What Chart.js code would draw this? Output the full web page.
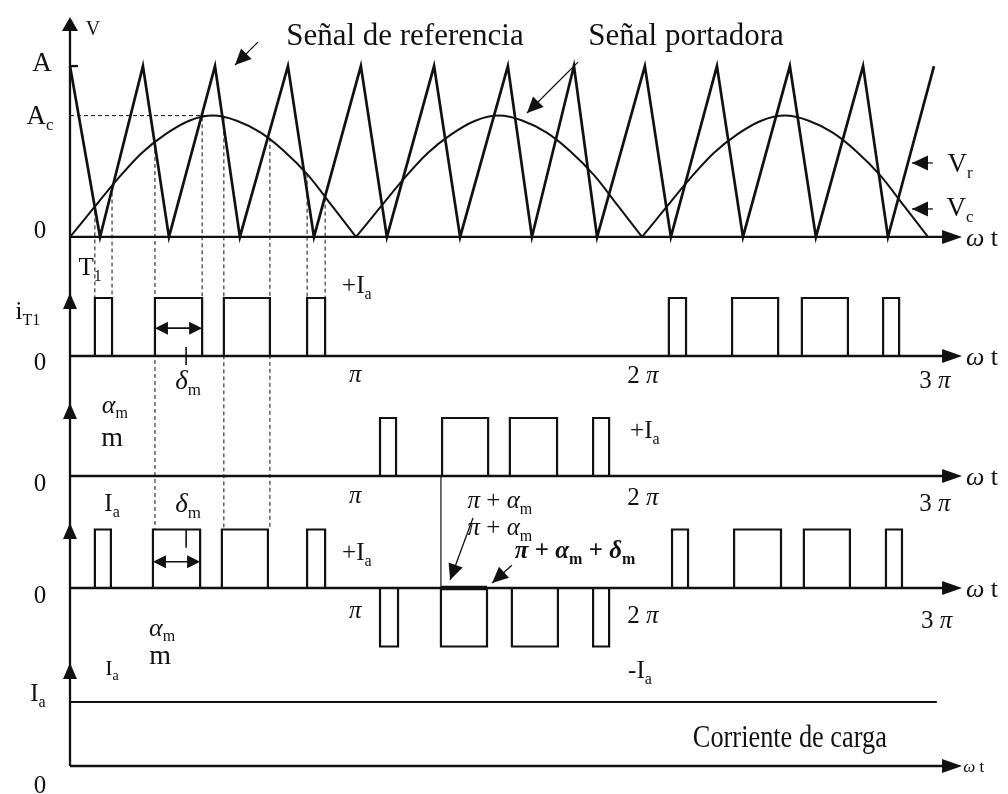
<!DOCTYPE html>
<html>
<head>
<meta charset="utf-8">
<script src="https://cdn.jsdelivr.net/npm/chart.js@4.4.1/dist/chart.umd.min.js"></script>
<style>
  html, body { margin: 0; padding: 0; background: #fff; }
  #wrap { position: relative; width: 1008px; height: 794px; }
</style>
</head>
<body>
<div id="wrap"><canvas id="pwm"></canvas></div>
<script>
// ωt is given in units of π everywhere
const carrierPeaks   = [0, 0.255, 0.507, 0.762, 1.017, 1.273, 1.531, 1.762, 2.010, 2.262, 2.517, 2.773, 3.021];
const carrierValleys = [0.105, 0.346, 0.594, 0.853, 1.108, 1.364, 1.615, 1.843, 2.101, 2.353, 2.608, 2.860];
const carrierA = 1;

// reference (rectified sine) read along one half-cycle
const refX = [0, 0.083, 0.167, 0.25, 0.333, 0.417, 0.5, 0.583, 0.667, 0.75, 0.833, 0.917, 1];
const refV = [0, 0.17, 0.34, 0.49, 0.60, 0.68, 0.71, 0.68, 0.61, 0.50, 0.36, 0.18, 0];
const refHumps = [0, 1, 2];
const refPeak = 0.71;

// gate pulses [on, off]
const iT1Pulses = [[0.087,0.147],[0.297,0.462],[0.538,0.699],[0.829,0.892],[2.094,2.154],[2.315,2.476],[2.559,2.720],[2.843,2.899]];
const iT2Pulses = [[1.084,1.140],[1.301,1.462],[1.538,1.703],[1.829,1.885]];
const outPosPulses = [[0.087,0.143],[0.290,0.455],[0.531,0.692],[0.829,0.892],[2.105,2.161],[2.322,2.486],[2.566,2.727],[2.853,2.909]];
const outNegPulses = [[1.084,1.147],[1.297,1.458],[1.545,1.706],[1.829,1.885]];
const loadCurrent = 1;
const loadEnd = 3.031;

// projection lines: [ωt, reference value at crossing, panel it ends on]
const projX   = [0.087, 0.147, 0.297, 0.462, 0.538, 0.699, 0.829, 0.892];
const projV   = [0.15, 0.26, 0.55, 0.70, 0.70, 0.58, 0.37, 0.23];
const projEnd = ['yT1', 'yT1', 'yO', 'yT1', 'yO', 'yO', 'yT1', 'yT1'];

const ink = '#111';
const serif = '"Liberation Serif", "DejaVu Serif", serif';

function pulseTrain(pulses){
  const pts = [{x: 0, y: 0}];
  pulses.forEach(([a, b, lv]) => {
    const l = lv === undefined ? 1 : lv;
    pts.push({x: a, y: 0}, {x: a, y: l}, {x: b, y: l}, {x: b, y: 0});
  });
  pts.push({x: 3, y: 0});
  return pts;
}

const carrierPts = carrierPeaks.map(x => ({x, y: carrierA}))
  .concat(carrierValleys.map(x => ({x, y: 0})))
  .sort((a, b) => a.x - b.x);

const outPulses = outPosPulses.map(p => [p[0], p[1], 1])
  .concat(outNegPulses.map(p => [p[0], p[1], -1]))
  .sort((a, b) => a[0] - b[0]);

const base = { pointRadius: 0, borderColor: ink, tension: 0, fill: false };
const datasets = [
  { ...base, data: carrierPts, yAxisID: 'yV', borderWidth: 2.7, clip: false },
  ...refHumps.map(k => ({ ...base, data: refX.map((x, i) => ({x: k + x, y: refV[i]})),
    yAxisID: 'yV', borderWidth: 2, cubicInterpolationMode: 'monotone' })),
  { ...base, data: pulseTrain(iT1Pulses), yAxisID: 'yT1', borderWidth: 2.2 },
  { ...base, data: pulseTrain(iT2Pulses), yAxisID: 'yT2', borderWidth: 2.2 },
  { ...base, data: pulseTrain(outPulses), yAxisID: 'yO', borderWidth: 2.2 },
  { ...base, data: [{x: 0, y: loadCurrent}, {x: loadEnd, y: loadCurrent}], yAxisID: 'yL', borderWidth: 2.2, clip: false }
];

// text: [text, ωt, axis, value, size, extra]
const labels = [
  ['V', 0.080, 'yV', 1.222, 20],
  ['A', -0.098, 'yV', 1.023, 27],
  ['A_c', -0.105, 'yV', 0.713, 27],
  ['0', -0.105, 'yV', 0.041, 25],
  ['Señal de referencia', 1.171, 'yV', 1.181, 31],
  ['Señal portadora', 2.154, 'yV', 1.181, 31],
  ['V_r', 3.112, 'yV', 0.433, 27],
  ['V_c', 3.112, 'yV', 0.175, 27],
  ['ω t', 3.189, 'yV', 0, 26],
  ['T_1', 0.070, 'yT1', 1.534, 25],
  ['i_T1', -0.147, 'yT1', 0.776, 25],
  ['+I_a', 1.003, 'yT1', 1.224, 25],
  ['0', -0.105, 'yT1', -0.103, 25],
  ['δ_m', 0.413, 'yT1', -0.414, 27],
  ['π', 0.997, 'yT1', -0.31, 25],
  ['2 π', 2.003, 'yT1', -0.33, 25],
  ['3 π', 3.024, 'yT1', -0.414, 25],
  ['ω t', 3.189, 'yT1', 0, 26],
  ['α_m', 0.157, 'yT1', -0.828, 26],
  ['m', 0.147, 'yT1', -1.397, 28],
  ['+I_a', 2.01, 'yT2', 0.793, 25],
  ['0', -0.105, 'yT2', -0.121, 25],
  ['I_a', 0.147, 'yT2', -0.466, 25],
  ['δ_m', 0.413, 'yT2', -0.466, 27],
  ['π', 0.997, 'yT2', -0.328, 25],
  ['π + α_m', 1.503, 'yT2', -0.414, 25],
  ['2 π', 2.003, 'yT2', -0.362, 25],
  ['3 π', 3.024, 'yT2', -0.466, 25],
  ['ω t', 3.189, 'yT2', 0, 26],
  ['+I_a', 1.003, 'yO', 0.615, 25],
  ['π + α_m', 1.503, 'yO', 1.043, 25],
  ['π + α_m + δ_m', 1.766, 'yO', 0.65, 25, 'bold'],
  ['0', -0.105, 'yO', -0.12, 25],
  ['π', 0.997, 'yO', -0.376, 25],
  ['2 π', 2.003, 'yO', -0.462, 25],
  ['3 π', 3.03, 'yO', -0.547, 25],
  ['ω t', 3.189, 'yO', 0, 26],
  ['α_m', 0.322, 'yO', -0.667, 26],
  ['m', 0.315, 'yO', -1.145, 28],
  ['I_a', 0.147, 'yO', -1.368, 22],
  ['-I_a', 1.993, 'yO', -1.402, 25],
  ['I_a', -0.112, 'yL', 1.14, 25],
  ['Corriente de carga', 2.517, 'yL', 0.453, 31, 194],
  ['0', -0.105, 'yL', -0.297, 25],
  ['ω t', 3.16, 'yL', 0, 17]
];

// arrows: [axis, from ωt, from value, to ωt, to value]
const pointers = [
  ['yV', 0.657, 1.140, 0.577, 1.006],
  ['yV', 1.776, 1.023, 1.598, 0.725],
  ['yV', 3.017, 0.433, 2.944, 0.433],
  ['yV', 3.017, 0.164, 2.944, 0.164],
  ['yO', 1.409, 1.197, 1.329, 0.137],
  ['yO', 1.545, 0.39, 1.476, 0.085]
];

// split "π + α_m" into runs: [text, subscript, greek]
function segs(t){
  const out = [];
  t.split(/(_\S+)/).forEach(p => {
    if (!p) return;
    const sub = p[0] === '_';
    const s = sub ? p.slice(1) : p;
    s.split(/([α-ω]+)/).forEach(r => {
      if (r) out.push([r, sub, /[α-ω]/.test(r)]);
    });
  });
  return out;
}

const overlay = {
  id: 'overlay',
  afterDatasetsDraw(chart){
    const ctx = chart.ctx;
    const X = v => chart.scales.x.getPixelForValue(v);
    const Y = (id, v) => chart.scales[id].getPixelForValue(v);
    const line = (x1, y1, x2, y2) => { ctx.beginPath(); ctx.moveTo(x1, y1); ctx.lineTo(x2, y2); ctx.stroke(); };
    const head = (tx, ty, fx, fy, len, half) => {
      const d = Math.hypot(tx - fx, ty - fy) || 1;
      const ux = (tx - fx) / d, uy = (ty - fy) / d;
      const bx = tx - ux * len, by = ty - uy * len;
      ctx.beginPath();
      ctx.moveTo(tx, ty);
      ctx.lineTo(bx - uy * half, by + ux * half);
      ctx.lineTo(bx + uy * half, by - ux * half);
      ctx.closePath();
      ctx.fill();
    };

    ctx.save();
    ctx.strokeStyle = ink;
    ctx.fillStyle = ink;

    // dashed projections
    ctx.lineWidth = 1;
    ctx.setLineDash([4, 3]);
    projX.forEach((x, i) => line(X(x), Y('yV', projV[i]), X(x), Y(projEnd[i], 1)));
    line(X(0), Y('yV', refPeak), X(0.5), Y('yV', refPeak));
    ctx.setLineDash([]);

    // vertical axis and its arrowheads
    const x0 = X(0);
    ctx.lineWidth = 2.3;
    line(x0, chart.chartArea.top + 10, x0, Y('yL', 0));
    head(x0, chart.chartArea.top, x0, chart.chartArea.top + 20, 14, 8);
    [['yT1', 1.086], ['yT2', 1.259], ['yO', 1.11], ['yL', 1.61]].forEach(([id, v]) => {
      const ty = Y(id, v);
      head(x0, ty, x0, ty + 20, 16, 7);
    });
    // tick at A
    line(x0, Y('yV', carrierA), x0 + 8, Y('yV', carrierA));

    // horizontal axes
    ['yV', 'yT1', 'yT2', 'yO', 'yL'].forEach(id => {
      const y = Y(id, 0), tip = X(3.119);
      line(x0, y, tip - 10, y);
      head(tip, y, tip - 20, y, 20, 7);
    });

    // thin join line and thick segment
    ctx.lineWidth = 1.2;
    line(X(1.297), Y('yT2', 0), X(1.297), Y('yO', 0));
    ctx.lineWidth = 4.5;
    line(X(1.297), Y('yO', 0), X(1.458), Y('yO', 0));

    // δm ticks
    ctx.lineWidth = 1.6;
    line(X(0.406), Y('yT1', 0.155), X(0.406), Y('yT1', -0.155));
    line(X(0.406), Y('yO', 1), X(0.406), Y('yO', 0.69));

    // δm width arrows
    [['yT1', 0.297, 0.462, 0.48], ['yO', 0.290, 0.455, 0.45]].forEach(([id, a, b, v]) => {
      const y = Y(id, v), xa = X(a), xb = X(b);
      line(xa + 8, y, xb - 8, y);
      head(xa, y, xa + 10, y, 13, 6.5);
      head(xb, y, xb - 10, y, 13, 6.5);
    });

    // pointer arrows
    ctx.lineWidth = 1.3;
    pointers.forEach(([id, fx, fv, tx, tv]) => {
      const x1 = X(fx), y1 = Y(id, fv), x2 = X(tx), y2 = Y(id, tv);
      line(x1, y1, x2, y2);
      head(x2, y2, x1, y1, 16, 7.5);
    });

    // labels
    labels.forEach(([t, xv, id, v, size, extra]) => {
      const bold = extra === 'bold' ? 'bold ' : '';
      const maxW = typeof extra === 'number' ? extra : null;
      const parts = segs(t);
      const fonts = parts.map(([, sub, greek]) =>
        `${greek ? 'italic ' : ''}${bold}${sub ? Math.round(size * 0.62) : size}px ${serif}`);
      let total = 0;
      const widths = parts.map(([s], i) => { ctx.font = fonts[i]; const w = ctx.measureText(s).width; total += w; return w; });
      const k = maxW && total > maxW ? maxW / total : 1;
      const cx = X(xv), cy = Y(id, v);
      ctx.save();
      ctx.translate(cx - total * k / 2, cy + size * 0.33);
      ctx.scale(k, 1);
      ctx.textBaseline = 'alphabetic';
      let cur = 0;
      parts.forEach(([s, sub], i) => {
        ctx.font = fonts[i];
        ctx.fillText(s, cur, sub ? size * 0.22 : 0);
        cur += widths[i];
      });
      ctx.restore();
    });

    ctx.restore();
  }
};

const panel = (weight, order, min, max) => ({
  type: 'linear', display: false, position: 'left', stack: 'panels',
  stackWeight: weight, weight: order, min, max
});

new Chart(document.getElementById('pwm'), {
  type: 'line',
  data: { datasets },
  options: {
    responsive: true,
    maintainAspectRatio: false,
    animation: false,
    events: [],
    parsing: false,
    layout: { padding: { left: 70, right: 80, top: 17, bottom: 28 } },
    plugins: { legend: { display: false }, tooltip: { enabled: false } },
    scales: {
      x:   { type: 'linear', display: false, min: 0, max: 3 },
      yV:  panel(228, 5, -0.047, 1.287),
      yT1: panel(120, 4, -0.155, 1.914),
      yT2: panel(120, 3, -0.155, 1.914),
      yO:  panel(195, 2, -1.573, 1.761),
      yL:  panel(86, 1, 0, 1.344)
    }
  },
  plugins: [overlay]
});
</script>
</body>
</html>
